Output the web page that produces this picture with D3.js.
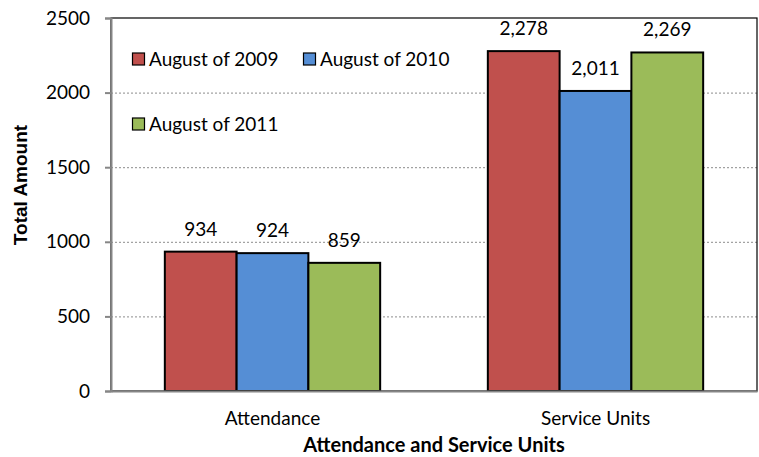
<!DOCTYPE html>
<html>
<head>
<meta charset="utf-8">
<script src="https://cdn.jsdelivr.net/npm/d3@7"></script>
<style>
  body { margin: 0; background: #fff; }
  text { font-family: Lato, "Open Sans", sans-serif; }
</style>
</head>
<body>
<svg width="759" height="457"></svg>
<script>

// data
var categories = ["Attendance", "Service Units"];
var seriesNames = ["August of 2009", "August of 2010", "August of 2011"];
var colors = ["#C0504D", "#558ED5", "#9BBB59"];
var values2009 = [934, 2278];
var values2010 = [924, 2011];
var values2011 = [859, 2269];
var yTicks = [0, 500, 1000, 1500, 2000, 2500];

var allValues = [values2009, values2010, values2011];

var svg = d3.select("svg"),
  width = +svg.attr("width"),
  height = +svg.attr("height");

// plot area
var plotLeft = 111, plotRight = 757, plotTop = 18, plotBottom = 391;

var x0 = d3.scaleBand()
  .domain(categories)
  .range([plotLeft, plotRight])
  .padding(0);

var x1 = d3.scaleBand()
  .domain(seriesNames)
  .range([0, x0.bandwidth()])
  .paddingInner(0)
  .paddingOuter(0.75);

var y = d3.scaleLinear()
  .domain([0, 2500])
  .range([plotBottom, plotTop]);

// gridlines
svg.append("g")
  .selectAll("line")
  .data(yTicks.filter(function (d) { return d > 0 && d < 2500; }))
  .enter().append("line")
  .attr("x1", plotLeft)
  .attr("x2", plotRight)
  .attr("y1", function (d) { return y(d) + 0.5; })
  .attr("y2", function (d) { return y(d) + 0.5; })
  .style("stroke", "#8c8c8c")
  .style("stroke-width", 1)
  .style("stroke-dasharray", "2,2");

// plot frame
svg.append("rect")
  .attr("x", plotLeft)
  .attr("y", plotTop)
  .attr("width", plotRight - plotLeft)
  .attr("height", plotBottom - plotTop)
  .style("fill", "none")
  .style("stroke", "#000")
  .style("stroke-width", 1.2);

// bars
var groups = svg.append("g")
  .selectAll("g")
  .data(categories)
  .enter().append("g")
  .attr("transform", function (d) { return "translate(" + x0(d) + ",0)"; });

groups.selectAll("rect")
  .data(function (c, ci) {
    return seriesNames.map(function (s, si) {
      return { series: s, si: si, value: allValues[si][ci] };
    });
  })
  .enter().append("rect")
  .attr("x", function (d) { return x1(d.series); })
  .attr("y", function (d) { return y(d.value); })
  .attr("width", x1.bandwidth())
  .attr("height", function (d) { return y(0) - y(d.value); })
  .style("fill", function (d) { return colors[d.si]; })
  .style("stroke", "#000")
  .style("stroke-width", 2);

// value labels
groups.selectAll("text")
  .data(function (c, ci) {
    return seriesNames.map(function (s, si) {
      return { series: s, value: allValues[si][ci] };
    });
  })
  .enter().append("text")
  .attr("x", function (d) { return x1(d.series) + x1.bandwidth() / 2; })
  .attr("y", function (d) { return y(d.value) - 16; })
  .attr("text-anchor", "middle")
  .style("font-size", "19px")
  .text(function (d) { return d3.format(",")(d.value); });

// y axis
var yAxis = svg.append("g")
  .attr("transform", "translate(" + plotLeft + ",0)")
  .call(d3.axisLeft(y).tickValues(yTicks).tickSize(6).tickPadding(15).tickFormat(d3.format("d")));
yAxis.select(".domain").style("stroke", "#868686").style("stroke-width", 2);
yAxis.selectAll(".tick line").style("stroke", "#868686").style("stroke-width", 2);
yAxis.selectAll(".tick text")
  .style("font-size", "19px")
  .style("font-family", "Lato, sans-serif")
  .style("fill", "#000");

// x axis
var xAxis = svg.append("g")
  .attr("transform", "translate(0," + plotBottom + ")")
  .call(d3.axisBottom(x0).tickSize(0).tickPadding(21));
xAxis.select(".domain").style("stroke", "#868686").style("stroke-width", 2);
xAxis.selectAll(".tick text")
  .style("font-size", "19px")
  .style("font-family", "Lato, sans-serif")
  .style("fill", "#000");

// axis titles
svg.append("text")
  .attr("x", (plotLeft + plotRight) / 2)
  .attr("y", 452)
  .attr("text-anchor", "middle")
  .style("font-size", "20px")
  .style("font-weight", "bold")
  .text("Attendance and Service Units");

svg.append("text")
  .attr("transform", "translate(27,185) rotate(-90)")
  .attr("text-anchor", "middle")
  .style("font-family", "'Liberation Sans', Arial, sans-serif")
  .style("font-size", "19px")
  .style("font-weight", "bold")
  .text("Total Amount");

// legend
var legendPos = [[132, 59], [303, 59], [132, 124]];
var legend = svg.append("g")
  .selectAll("g")
  .data(seriesNames)
  .enter().append("g")
  .attr("transform", function (d, i) { return "translate(" + legendPos[i][0] + "," + legendPos[i][1] + ")"; });

legend.append("rect")
  .attr("x", 0.5)
  .attr("y", -6)
  .attr("width", 12)
  .attr("height", 12)
  .style("fill", function (d, i) { return colors[i]; })
  .style("stroke", "#000")
  .style("stroke-width", 1.2);

legend.append("text")
  .attr("x", 17)
  .attr("y", 7)
  .style("font-size", "19px")
  .text(function (d) { return d; });

</script>
</body>
</html>
